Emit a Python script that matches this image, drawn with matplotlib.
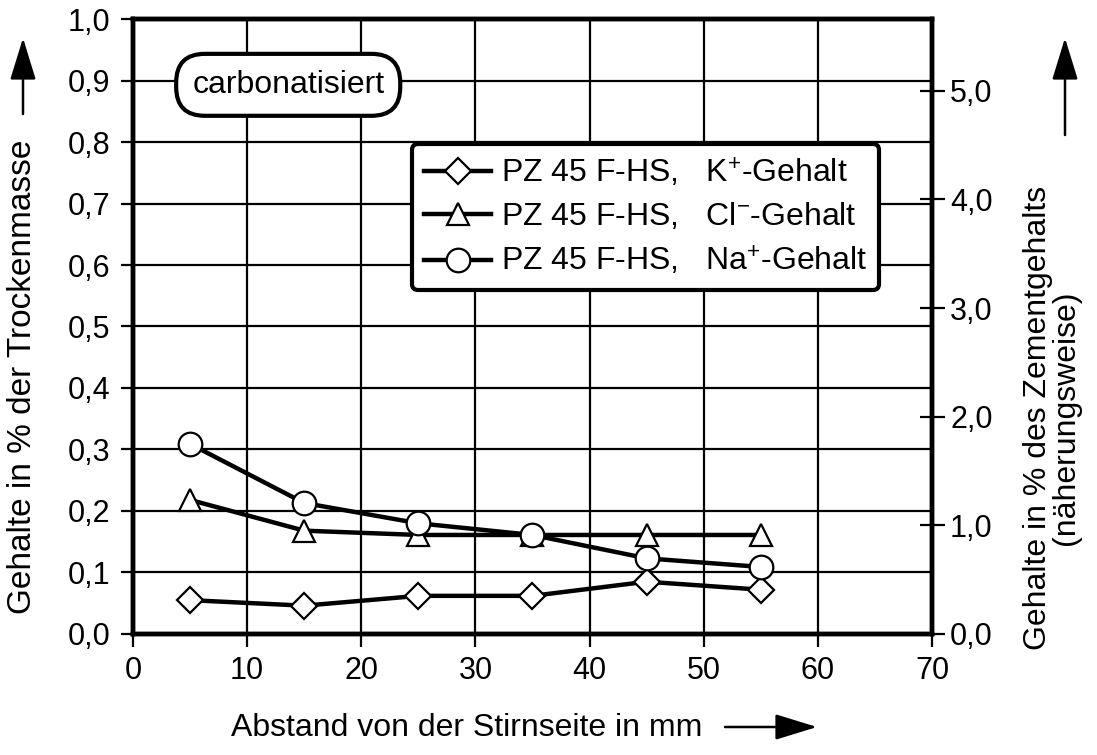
import matplotlib
matplotlib.use("Agg")
import matplotlib.pyplot as plt

plt.rcParams["font.family"] = ["Liberation Sans", "DejaVu Sans"]
plt.rcParams["mathtext.fontset"] = "custom"
plt.rcParams["mathtext.rm"] = "Liberation Sans"
plt.rcParams["mathtext.it"] = "Liberation Sans"

# data
abstand = [5, 15, 25, 35, 45, 55]
kalium = [0.055, 0.046, 0.062, 0.062, 0.085, 0.072]
chlorid = [0.218, 0.168, 0.161, 0.161, 0.161, 0.161]
natrium = [0.309, 0.213, 0.180, 0.161, 0.123, 0.109]

x_ticks = [0, 10, 20, 30, 40, 50, 60, 70]
left_ticks = [0.0, 0.1, 0.2, 0.3, 0.4, 0.5, 0.6, 0.7, 0.8, 0.9, 1.0]
right_ticks = [0.0, 1.0, 2.0, 3.0, 4.0, 5.0]
right_max = 5.66  # right axis scaled to the cement content (approx.)

labels = [
    r"PZ 45 F-HS,   K$^{+}$-Gehalt",
    r"PZ 45 F-HS,   Cl$^{-}$-Gehalt",
    r"PZ 45 F-HS,   Na$^{+}$-Gehalt",
]

FS_TICK = 22
FS = 23


def komma(v):
    return f"{v:.1f}".replace(".", ",")


fig = plt.figure(figsize=(10.97, 7.55), dpi=100)
ax = fig.add_axes([0.1212, 0.1603, 0.7284, 0.8145])

style = dict(color="black", linewidth=3.2, markerfacecolor="white",
             markeredgecolor="black", markeredgewidth=1.6, zorder=5)
ax.plot(abstand, kalium, marker="D", markersize=13, label=labels[0], **style)
ax.plot(abstand, chlorid, marker="^", markersize=16, label=labels[1], **style)
ax.plot(abstand, natrium, marker="o", markersize=17, label=labels[2], **style)

ax.set_xlim(0, 70)
ax.set_ylim(0, 1.0)
ax.set_xticks(x_ticks)
ax.set_xticklabels([str(v) for v in x_ticks], fontsize=FS_TICK)
ax.set_yticks(left_ticks)
ax.set_yticklabels([komma(v) for v in left_ticks], fontsize=FS_TICK)
ax.grid(True, color="black", linewidth=1.6)
ax.tick_params(axis="both", direction="out", length=9, width=1.6, pad=7)
for s in ax.spines.values():
    s.set_linewidth(3.2)

ax2 = ax.twinx()
ax2.set_ylim(0, right_max)
ax2.set_yticks(right_ticks)
ax2.set_yticklabels([komma(v) for v in right_ticks], fontsize=FS_TICK)
ax2.tick_params(axis="y", direction="inout", length=18, width=1.6, pad=4)
for s in ax2.spines.values():
    s.set_linewidth(3.2)

ax.text(13.6, 0.893, "carbonatisiert", fontsize=FS, ha="center", va="center",
        zorder=6,
        bbox=dict(boxstyle="round,pad=0.5,rounding_size=0.9",
                  facecolor="white", edgecolor="black", linewidth=3))

leg = ax.legend(loc="upper left", bbox_to_anchor=(0.349, 0.797), fontsize=FS,
                handlelength=2.1, handletextpad=0.3, labelspacing=0.38,
                borderpad=0.38, borderaxespad=0, fancybox=True, framealpha=1)
leg.get_frame().set_edgecolor("black")
leg.get_frame().set_linewidth(3)
leg.set_zorder(10)

# axis titles placed like in the original
fig.text(23 / 1097, 1 - 377 / 755, "Gehalte in % der Trockenmasse", fontsize=24,
         rotation=90, ha="center", va="center")
fig.text(1052 / 1097, 1 - 418 / 755, "Gehalte in % des Zementgehalts\n(näherungsweise)",
         fontsize=FS, rotation=90, ha="center", va="center", linespacing=0.95)
fig.text(467 / 1097, 1 - 728 / 755, "Abstand von der Stirnseite in mm", fontsize=FS,
         ha="center", va="center")

arrow = dict(arrowstyle="-|>,head_length=2.6,head_width=0.8", color="black",
             linewidth=1.8, shrinkA=0, shrinkB=0, mutation_scale=10)
ax.annotate("", xy=(23 / 1097, 1 - 38 / 755), xytext=(23 / 1097, 1 - 114 / 755),
            xycoords="figure fraction", arrowprops=arrow)
ax.annotate("", xy=(1065 / 1097, 1 - 38 / 755), xytext=(1065 / 1097, 1 - 135 / 755),
            xycoords="figure fraction", arrowprops=arrow)
ax.annotate("", xy=(817 / 1097, 1 - 727 / 755), xytext=(725 / 1097, 1 - 727 / 755),
            xycoords="figure fraction", arrowprops=arrow)

fig.savefig("out.png", dpi=100)
